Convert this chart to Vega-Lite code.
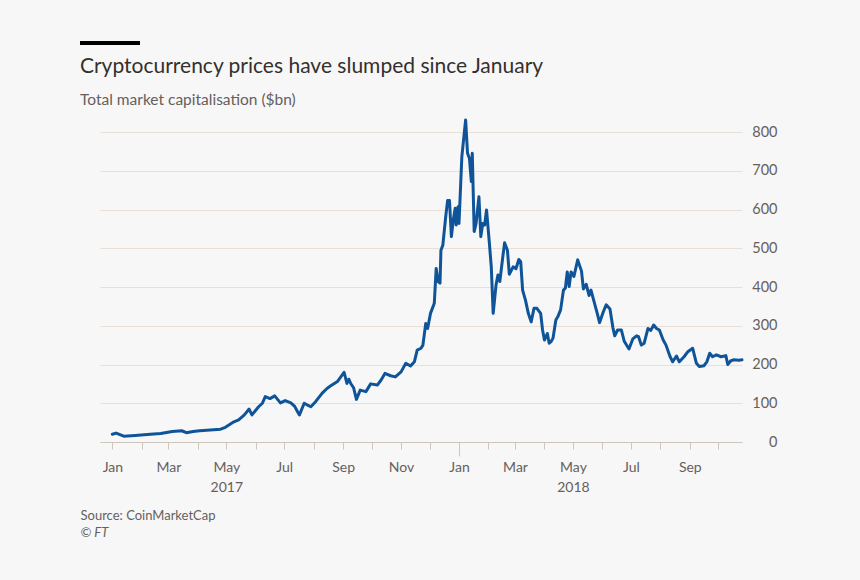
{
  "$schema": "https://vega.github.io/schema/vega-lite/v6.json",
  "background": "#f7f7f7",
  "padding": {"left": 80, "top": 41, "right": 83, "bottom": 45},
  "config": {"view": {"stroke": null}, "font": "Lato"},
  "spacing": 10,
  "columns": 1,
  "align": "none",
  "concat": [
    {
      "width": 60,
      "height": 4,
      "data": {"values": [{"a": 0, "b": 1}]},
      "mark": {"type": "rect", "color": "#000000"},
      "encoding": {
        "x": {"field": "a", "type": "quantitative", "scale": {"domain": [0.33333, 1.33333]}, "axis": null},
        "x2": {"field": "b"}
      }
    },
    {
      "width": 642,
      "height": 310,
      "title": {
        "text": "Cryptocurrency prices have slumped since January",
        "subtitle": "Total market capitalisation ($bn)",
        "anchor": "start",
        "frame": "group",
        "dx": -20,
        "fontSize": 21,
        "fontWeight": "normal",
        "color": "#33302e",
        "subtitleFontSize": 15.5,
        "subtitleColor": "#66605c",
        "subtitlePadding": 16,
        "offset": 10
      },
      "data": {"values": [
        {"date": "2017-01-01", "cap": 20}, {"date": "2017-01-05", "cap": 23}, {"date": "2017-01-13", "cap": 15},
        {"date": "2017-01-25", "cap": 17}, {"date": "2017-02-10", "cap": 20}, {"date": "2017-02-21", "cap": 22},
        {"date": "2017-03-05", "cap": 27}, {"date": "2017-03-15", "cap": 29}, {"date": "2017-03-20", "cap": 24},
        {"date": "2017-03-27", "cap": 27}, {"date": "2017-04-03", "cap": 29}, {"date": "2017-04-14", "cap": 31},
        {"date": "2017-04-25", "cap": 33}, {"date": "2017-04-30", "cap": 38}, {"date": "2017-05-09", "cap": 52},
        {"date": "2017-05-14", "cap": 57}, {"date": "2017-05-20", "cap": 70}, {"date": "2017-05-25", "cap": 85},
        {"date": "2017-05-28", "cap": 70}, {"date": "2017-06-04", "cap": 91}, {"date": "2017-06-08", "cap": 100},
        {"date": "2017-06-11", "cap": 117}, {"date": "2017-06-16", "cap": 112}, {"date": "2017-06-21", "cap": 119},
        {"date": "2017-06-27", "cap": 101}, {"date": "2017-07-02", "cap": 107}, {"date": "2017-07-08", "cap": 101},
        {"date": "2017-07-12", "cap": 92}, {"date": "2017-07-15", "cap": 78}, {"date": "2017-07-17", "cap": 70},
        {"date": "2017-07-22", "cap": 100}, {"date": "2017-07-25", "cap": 96}, {"date": "2017-07-29", "cap": 91},
        {"date": "2017-08-03", "cap": 104}, {"date": "2017-08-10", "cap": 126}, {"date": "2017-08-15", "cap": 138},
        {"date": "2017-08-19", "cap": 145}, {"date": "2017-08-26", "cap": 156}, {"date": "2017-08-29", "cap": 166},
        {"date": "2017-09-02", "cap": 180}, {"date": "2017-09-05", "cap": 151}, {"date": "2017-09-07", "cap": 162},
        {"date": "2017-09-09", "cap": 151}, {"date": "2017-09-12", "cap": 140}, {"date": "2017-09-15", "cap": 110},
        {"date": "2017-09-19", "cap": 134}, {"date": "2017-09-25", "cap": 130}, {"date": "2017-09-30", "cap": 150},
        {"date": "2017-10-07", "cap": 147}, {"date": "2017-10-11", "cap": 160}, {"date": "2017-10-15", "cap": 177},
        {"date": "2017-10-21", "cap": 171}, {"date": "2017-10-26", "cap": 168}, {"date": "2017-11-01", "cap": 181},
        {"date": "2017-11-06", "cap": 203}, {"date": "2017-11-11", "cap": 196}, {"date": "2017-11-15", "cap": 207},
        {"date": "2017-11-18", "cap": 237}, {"date": "2017-11-22", "cap": 242}, {"date": "2017-11-24", "cap": 250},
        {"date": "2017-11-27", "cap": 306}, {"date": "2017-11-29", "cap": 293}, {"date": "2017-12-02", "cap": 332},
        {"date": "2017-12-06", "cap": 358}, {"date": "2017-12-08", "cap": 448}, {"date": "2017-12-10", "cap": 414},
        {"date": "2017-12-12", "cap": 410}, {"date": "2017-12-13", "cap": 495}, {"date": "2017-12-15", "cap": 508},
        {"date": "2017-12-18", "cap": 581}, {"date": "2017-12-20", "cap": 623}, {"date": "2017-12-22", "cap": 623},
        {"date": "2017-12-24", "cap": 530}, {"date": "2017-12-26", "cap": 573}, {"date": "2017-12-28", "cap": 603},
        {"date": "2017-12-29", "cap": 560}, {"date": "2017-12-31", "cap": 607}, {"date": "2018-01-01", "cap": 564},
        {"date": "2018-01-02", "cap": 620}, {"date": "2018-01-04", "cap": 736}, {"date": "2018-01-06", "cap": 784},
        {"date": "2018-01-08", "cap": 831}, {"date": "2018-01-10", "cap": 745}, {"date": "2018-01-12", "cap": 732},
        {"date": "2018-01-14", "cap": 672}, {"date": "2018-01-15", "cap": 745}, {"date": "2018-01-17", "cap": 543},
        {"date": "2018-01-19", "cap": 564}, {"date": "2018-01-22", "cap": 633}, {"date": "2018-01-24", "cap": 530},
        {"date": "2018-01-26", "cap": 564}, {"date": "2018-01-28", "cap": 560}, {"date": "2018-01-30", "cap": 599},
        {"date": "2018-02-02", "cap": 513}, {"date": "2018-02-04", "cap": 452}, {"date": "2018-02-06", "cap": 332},
        {"date": "2018-02-09", "cap": 405}, {"date": "2018-02-11", "cap": 431}, {"date": "2018-02-13", "cap": 414},
        {"date": "2018-02-16", "cap": 475}, {"date": "2018-02-18", "cap": 514}, {"date": "2018-02-21", "cap": 495},
        {"date": "2018-02-23", "cap": 433}, {"date": "2018-02-27", "cap": 452}, {"date": "2018-03-02", "cap": 447},
        {"date": "2018-03-05", "cap": 471}, {"date": "2018-03-07", "cap": 465}, {"date": "2018-03-09", "cap": 392},
        {"date": "2018-03-12", "cap": 366}, {"date": "2018-03-15", "cap": 332}, {"date": "2018-03-18", "cap": 310},
        {"date": "2018-03-21", "cap": 345}, {"date": "2018-03-24", "cap": 345}, {"date": "2018-03-28", "cap": 332},
        {"date": "2018-03-30", "cap": 289}, {"date": "2018-04-01", "cap": 263}, {"date": "2018-04-04", "cap": 280},
        {"date": "2018-04-06", "cap": 255}, {"date": "2018-04-08", "cap": 259}, {"date": "2018-04-10", "cap": 268},
        {"date": "2018-04-13", "cap": 315}, {"date": "2018-04-15", "cap": 323}, {"date": "2018-04-18", "cap": 341},
        {"date": "2018-04-21", "cap": 392}, {"date": "2018-04-23", "cap": 397}, {"date": "2018-04-25", "cap": 439},
        {"date": "2018-04-27", "cap": 401}, {"date": "2018-04-29", "cap": 439}, {"date": "2018-05-02", "cap": 427},
        {"date": "2018-05-06", "cap": 470}, {"date": "2018-05-10", "cap": 441}, {"date": "2018-05-12", "cap": 395},
        {"date": "2018-05-15", "cap": 407}, {"date": "2018-05-18", "cap": 378}, {"date": "2018-05-20", "cap": 392},
        {"date": "2018-05-24", "cap": 355}, {"date": "2018-05-27", "cap": 328}, {"date": "2018-05-29", "cap": 308},
        {"date": "2018-06-02", "cap": 336}, {"date": "2018-06-05", "cap": 354}, {"date": "2018-06-09", "cap": 343},
        {"date": "2018-06-12", "cap": 296}, {"date": "2018-06-14", "cap": 274}, {"date": "2018-06-17", "cap": 289},
        {"date": "2018-06-21", "cap": 289}, {"date": "2018-06-24", "cap": 260}, {"date": "2018-06-29", "cap": 240},
        {"date": "2018-07-03", "cap": 266}, {"date": "2018-07-07", "cap": 274}, {"date": "2018-07-09", "cap": 272},
        {"date": "2018-07-12", "cap": 250}, {"date": "2018-07-15", "cap": 255}, {"date": "2018-07-19", "cap": 293},
        {"date": "2018-07-22", "cap": 288}, {"date": "2018-07-25", "cap": 302}, {"date": "2018-07-28", "cap": 293},
        {"date": "2018-07-31", "cap": 289}, {"date": "2018-08-04", "cap": 263}, {"date": "2018-08-07", "cap": 250},
        {"date": "2018-08-11", "cap": 222}, {"date": "2018-08-14", "cap": 207}, {"date": "2018-08-18", "cap": 222},
        {"date": "2018-08-21", "cap": 207}, {"date": "2018-08-26", "cap": 220}, {"date": "2018-08-30", "cap": 233},
        {"date": "2018-09-04", "cap": 242}, {"date": "2018-09-08", "cap": 203}, {"date": "2018-09-11", "cap": 195},
        {"date": "2018-09-16", "cap": 197}, {"date": "2018-09-19", "cap": 207}, {"date": "2018-09-22", "cap": 229},
        {"date": "2018-09-25", "cap": 220}, {"date": "2018-09-29", "cap": 225}, {"date": "2018-10-04", "cap": 220},
        {"date": "2018-10-09", "cap": 223}, {"date": "2018-10-11", "cap": 200}, {"date": "2018-10-14", "cap": 209},
        {"date": "2018-10-17", "cap": 212}, {"date": "2018-10-23", "cap": 211}, {"date": "2018-10-26", "cap": 212}
      ]},
      "mark": {"type": "line", "color": "#0f5499", "strokeWidth": 3, "strokeJoin": "round", "strokeCap": "round"},
      "encoding": {
        "x": {
          "field": "date",
          "type": "temporal",
          "scale": {"type": "utc", "domain": [{"year": 2016, "month": 12, "date": 19, "utc": true}, {"year": 2018, "month": 10, "date": 26, "utc": true}]},
          "axis": {
            "orient": "bottom",
            "title": "Source: CoinMarketCap",
            "titleX": -20,
            "titleY": 77,
            "titleAlign": "left",
            "titleAnchor": "start",
            "titleBaseline": "alphabetic",
            "titleFontSize": 13,
            "titleFontWeight": "normal",
            "titleColor": "#66605c",
            "tickCount": {"interval": "month", "step": 1},
            "tickSize": {"condition": {"test": "utcyear(datum.value) == 2018 && utcmonth(datum.value) == 0", "value": 14}, "value": 7},
            "tickColor": "#cfc6bb",
            "domainColor": "#cfc6bb",
            "grid": false,
            "labelExpr": "utcmonth(datum.value) % 2 == 0 ? (utcmonth(datum.value) == 4 ? [utcFormat(datum.value, '%b'), utcFormat(datum.value, '%Y')] : utcFormat(datum.value, '%b')) : ''",
            "labelFontSize": 14,
            "labelColor": "#66605c",
            "labelPadding": {"condition": {"test": "utcyear(datum.value) == 2018 && utcmonth(datum.value) == 0", "value": 4}, "value": 11},
            "labelLineHeight": 20,
            "labelOverlap": false,
            "labelFlush": false
          }
        },
        "y": {
          "field": "cap",
          "type": "quantitative",
          "scale": {"domain": [0, 800]},
          "axis": {
            "orient": "right",
            "values": [0, 100, 200, 300, 400, 500, 600, 700, 800],
            "title": "© FT",
            "titleAngle": 0,
            "titleX": -662,
            "titleY": 404,
            "titleAlign": "left",
            "titleAnchor": "start",
            "titleBaseline": "alphabetic",
            "titleFontSize": 13,
            "titleFontWeight": "normal",
            "titleFontStyle": "italic",
            "titleColor": "#66605c",
            "grid": true,
            "gridColor": "#e8dfd6",
            "gridWidth": 1,
            "domain": false,
            "ticks": false,
            "labelAlign": "right",
            "labelPadding": 35,
            "labelFontSize": 14.5,
            "labelColor": "#66605c"
          }
        }
      }
    }
  ]
}
